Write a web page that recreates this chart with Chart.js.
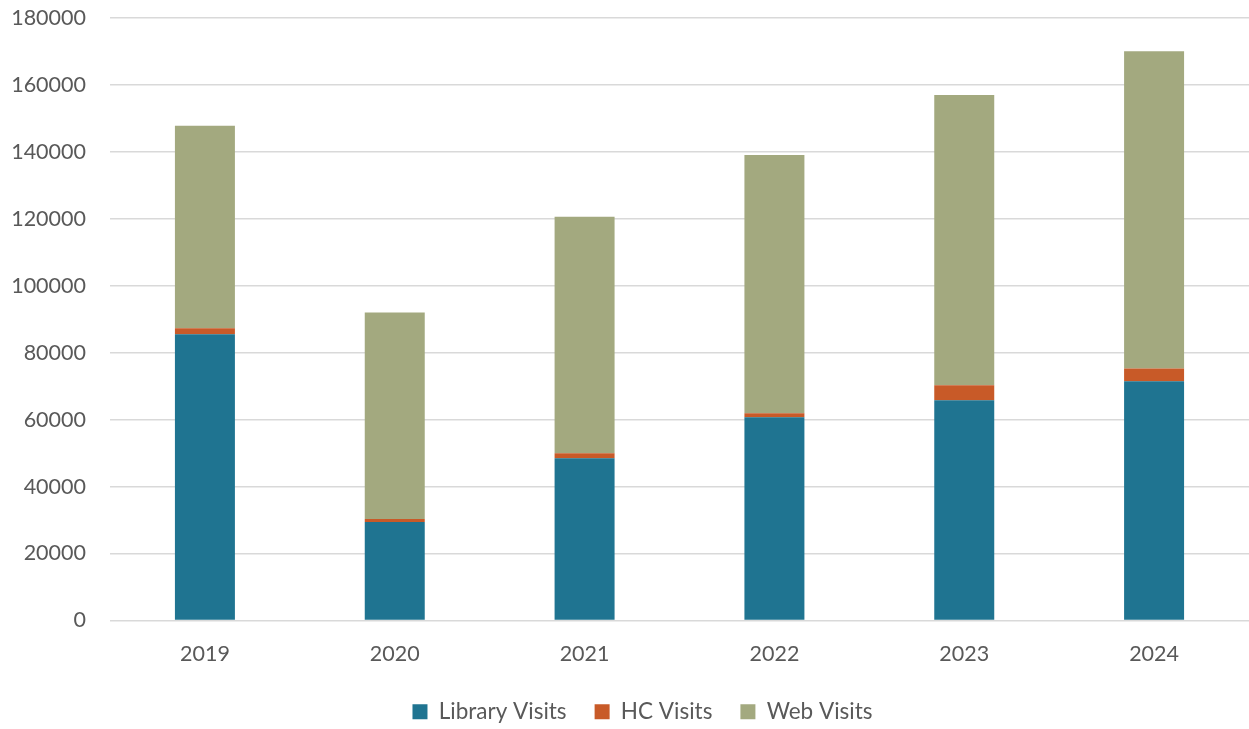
<!DOCTYPE html>
<html>
<head>
<meta charset="utf-8">
<script src="https://cdn.jsdelivr.net/npm/chart.js@4/dist/chart.umd.min.js"></script>
<style>
  html, body { margin: 0; padding: 0; background: #ffffff; overflow: hidden; }
  #wrap { width: 1249px; height: 729px; position: relative; overflow: hidden; }
  canvas { display: block; }
</style>
</head>
<body>
<div id="wrap"><canvas id="c" width="1249" height="733"></canvas></div>
<script>
const categories = ["2019", "2020", "2021", "2022", "2023", "2024"];
const libraryVisits = [85500, 29400, 48500, 60700, 65800, 71500];
const hcVisits = [1800, 900, 1500, 1200, 4500, 3800];
const webVisits = [60500, 61700, 70600, 77200, 86700, 94800];
const seriesNames = ["Library Visits", "HC Visits", "Web Visits"];
const colors = ["#1f7491", "#c85a28", "#a3a97f"];

const FONT = "Lato, 'Open Sans', 'Liberation Sans', sans-serif";
const LEGEND_PAD = 28;
const LEGEND_SHIFT = 18;

const legendShift = {
  id: "legendShift",
  afterLayout(chart) {
    if (chart.legend) {
      chart.legend.left += LEGEND_SHIFT;
      chart.legend.right += LEGEND_SHIFT;
    }
  }
};

new Chart(document.getElementById("c"), {
  type: "bar",
  data: {
    labels: categories,
    datasets: [
      { label: seriesNames[0], data: libraryVisits, backgroundColor: colors[0] },
      { label: seriesNames[1], data: hcVisits, backgroundColor: colors[1] },
      { label: seriesNames[2], data: webVisits, backgroundColor: colors[2] }
    ]
  },
  plugins: [legendShift],
  options: {
    responsive: false,
    animation: false,
    layout: { padding: { top: 18, right: 0, left: 0, bottom: 0 } },
    datasets: { bar: { barPercentage: 1, categoryPercentage: 0.316, borderWidth: 0 } },
    scales: {
      x: {
        stacked: true,
        afterFit: (s) => { s.height = 80 - LEGEND_PAD; },
        grid: { display: false, drawTicks: false },
        border: { display: false },
        ticks: { color: "#595959", font: { family: FONT, size: 21.5 }, padding: 21 }
      },
      y: {
        stacked: true,
        min: 0, max: 180000,
        afterFit: (s) => { s.width = 110; s.paddingTop = 0; s.paddingBottom = 0; },
        grid: { color: "#d9d9d9", lineWidth: 1.5, drawTicks: false },
        border: { display: false },
        ticks: {
          stepSize: 20000,
          color: "#595959",
          font: { family: FONT, size: 21.5 },
          padding: 24,
          callback: (v) => String(v)
        }
      }
    },
    plugins: {
      legend: {
        position: "bottom",
        labels: {
          color: "#595959",
          font: { family: FONT, size: 22.5 },
          boxWidth: 15, boxHeight: 15,
          padding: LEGEND_PAD
        }
      },
      tooltip: { enabled: false }
    }
  }
});
</script>
</body>
</html>
